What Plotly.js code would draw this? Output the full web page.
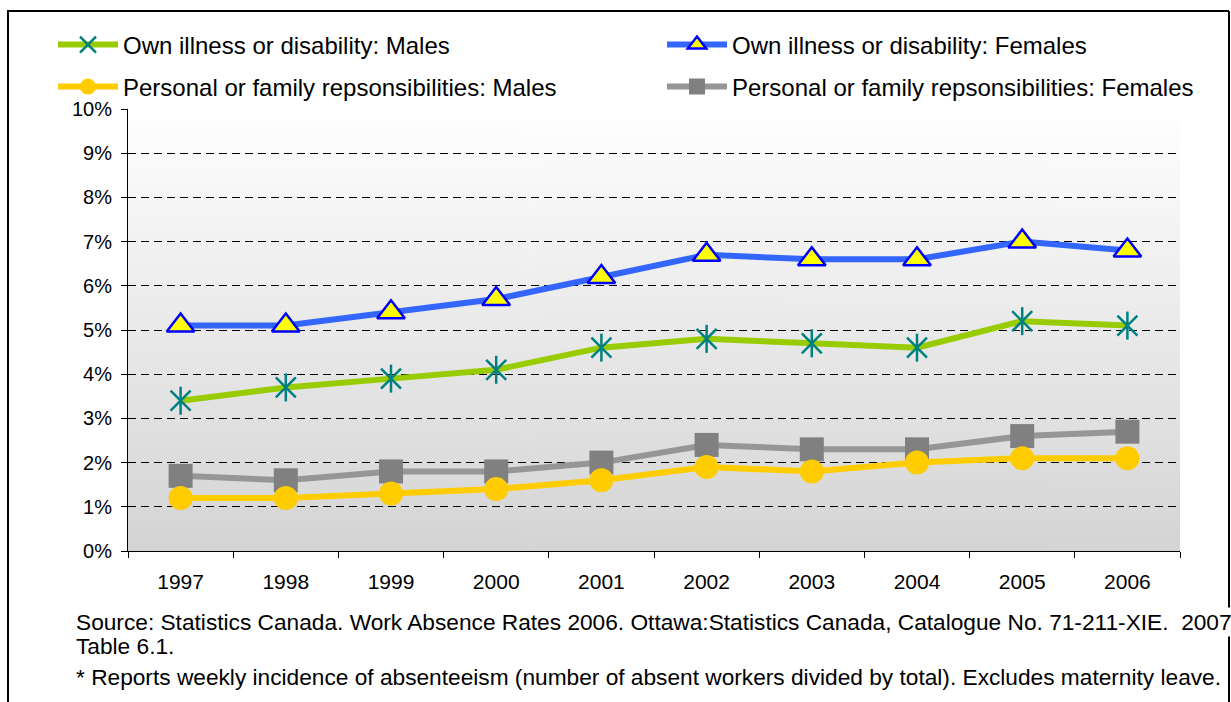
<!DOCTYPE html>
<html>
<head>
<meta charset="utf-8">
<script src="https://cdn.plot.ly/plotly-3.0.1.min.js"></script>
<style>
  html, body { margin: 0; padding: 0; background: #fff; }
  #chart { width: 1231px; height: 702px; }
</style>
</head>
<body>
<div id="chart"></div>
<script>
// Work absence rates by reason and sex, Canada 1997-2006 (% of workers)
const years = ['1997', '1998', '1999', '2000', '2001', '2002', '2003', '2004', '2005', '2006'];
const ownIllnessMales   = [3.4, 3.7, 3.9, 4.1, 4.6, 4.8, 4.7, 4.6, 5.2, 5.1];
const ownIllnessFemales = [5.1, 5.1, 5.4, 5.7, 6.2, 6.7, 6.6, 6.6, 7.0, 6.8];
const familyMales       = [1.2, 1.2, 1.3, 1.4, 1.6, 1.9, 1.8, 2.0, 2.1, 2.1];
const familyFemales     = [1.7, 1.6, 1.8, 1.8, 2.0, 2.4, 2.3, 2.3, 2.6, 2.7];

const seriesNames = [
  'Own illness or disability: Males',
  'Own illness or disability: Females',
  'Personal or family repsonsibilities: Males',
  'Personal or family repsonsibilities: Females'
];

const sourceLine1 = 'Source: Statistics Canada. Work Absence Rates 2006. Ottawa:Statistics Canada, Catalogue No. 71-211-XIE.  2007';
const sourceLine2 = 'Table 6.1.';
const noteLine = '* Reports weekly incidence of absenteeism (number of absent workers divided by total). Excludes maternity leave.';

// Vertical white-to-grey wash behind the plot area
function gradientImage() {
  const c = document.createElement('canvas');
  c.width = 4; c.height = 256;
  const ctx = c.getContext('2d');
  const g = ctx.createLinearGradient(0, 0, 0, 256);
  g.addColorStop(0, '#ffffff');
  g.addColorStop(1, '#d4d4d4');
  ctx.fillStyle = g;
  ctx.fillRect(0, 0, 4, 256);
  return c.toDataURL('image/png');
}

const font = 'Liberation Sans, Arial, sans-serif';

// plot area in pixels (used to place frame and notes in paper units)
const W = 1231, H = 702;
const M = {l: 128, r: 51, t: 109, b: 151};
const PW = W - M.l - M.r, PH = H - M.t - M.b;
const px = v => (v - M.l) / PW;
const py = v => (H - M.b - v) / PH;

const traces = [
  {
    x: years, y: familyFemales, name: seriesNames[3], legend: 'legend4',
    mode: 'lines+markers', type: 'scatter',
    line: {color: '#969696', width: 6},
    marker: {symbol: 'square', size: 24, color: '#808080'}
  },
  {
    x: years, y: familyMales, name: seriesNames[2], legend: 'legend3',
    mode: 'lines+markers', type: 'scatter',
    line: {color: '#ffcc00', width: 6},
    marker: {symbol: 'circle', size: 24, color: '#ffcc00'}
  },
  {
    x: years, y: ownIllnessMales, name: seriesNames[0], legend: 'legend',
    mode: 'lines+markers', type: 'scatter',
    line: {color: '#99cc00', width: 6},
    marker: {symbol: 'x-thin-open', size: 20, color: '#008080', line: {color: '#008080', width: 2.5}}
  },
  {
    // vertical stroke that completes the six-armed asterisk
    x: years, y: ownIllnessMales, name: seriesNames[0], showlegend: false,
    mode: 'markers', type: 'scatter', hoverinfo: 'skip',
    marker: {symbol: 'line-ns-open', size: 20, color: '#008080', line: {color: '#008080', width: 2.5}}
  },
  {
    x: years, y: ownIllnessFemales, name: seriesNames[1], legend: 'legend2',
    mode: 'lines+markers', type: 'scatter',
    line: {color: '#3366ff', width: 6},
    marker: {symbol: 'triangle-up', size: 24, color: '#ffff00', line: {color: '#0000ff', width: 2.5}}
  }
];

function legendAt(left, centerY, itemW) {
  return {
    orientation: 'h',
    xref: 'container', yref: 'container',
    xanchor: 'left', yanchor: 'middle',
    x: left / W, y: 1 - centerY / H,
    itemwidth: itemW,
    font: {family: font, size: 24, color: '#000'},
    bgcolor: 'rgba(0,0,0,0)'
  };
}

const layout = {
  width: W, height: H,
  margin: {l: M.l, r: M.r, t: M.t, b: M.b, pad: 0, autoexpand: false},
  paper_bgcolor: '#ffffff',
  plot_bgcolor: 'rgba(0,0,0,0)',
  font: {family: font, color: '#000'},
  showlegend: true,
  legend: legendAt(53, 45, 60),
  legend2: legendAt(662, 45, 60),
  legend3: legendAt(53, 87, 60),
  legend4: legendAt(662, 87, 60),
  xaxis: {
    type: 'category',
    range: [-0.5, 9.5],
    showline: true, linecolor: '#000', linewidth: 1,
    ticks: 'outside', ticklen: 6, tickcolor: '#000', tickson: 'boundaries',
    ticklabelstandoff: 12,
    showgrid: false, zeroline: false,
    tickfont: {family: font, size: 21, color: '#000'},
    fixedrange: true
  },
  yaxis: {
    range: [0, 10], dtick: 1, tick0: 0,
    ticksuffix: '%',
    showline: true, linecolor: '#000', linewidth: 1,
    ticks: 'outside', ticklen: 6, tickcolor: '#000',
    ticklabelstandoff: 5,
    showgrid: true, gridcolor: '#000', gridwidth: 1, griddash: '8px,5px',
    zeroline: false,
    tickfont: {family: font, size: 20, color: '#000'},
    fixedrange: true
  },
  images: [{
    source: gradientImage(),
    xref: 'paper', yref: 'paper',
    x: 0, y: 1, sizex: 1, sizey: 1,
    xanchor: 'left', yanchor: 'top',
    sizing: 'stretch', layer: 'below'
  }],
  shapes: [
    // chart frame
    {type: 'line', xref: 'paper', yref: 'paper',
     x0: px(8), x1: px(8), y0: py(11), y1: py(720),
     line: {color: '#000', width: 2}},
    {type: 'line', xref: 'paper', yref: 'paper',
     x0: px(7), x1: px(1229), y0: py(11), y1: py(11),
     line: {color: '#000', width: 2}},
    {type: 'line', xref: 'paper', yref: 'paper',
     x0: px(1229), x1: px(1229), y0: py(11), y1: py(720),
     line: {color: '#000', width: 2}}
  ],
  annotations: [
    {text: sourceLine1, xref: 'paper', yref: 'paper', x: px(74), y: py(622),
     xanchor: 'left', yanchor: 'middle', showarrow: false, bgcolor: '#ffffff',
     font: {family: font, size: 22.7, color: '#000'}},
    {text: sourceLine2, xref: 'paper', yref: 'paper', x: px(74), y: py(646),
     xanchor: 'left', yanchor: 'middle', showarrow: false,
     font: {family: font, size: 22.7, color: '#000'}},
    {text: noteLine, xref: 'paper', yref: 'paper', x: px(74), y: py(677),
     xanchor: 'left', yanchor: 'middle', showarrow: false,
     font: {family: font, size: 22.7, color: '#000'}}
  ]
};

Plotly.newPlot('chart', traces, layout, {staticPlot: true, displayModeBar: false});
</script>
</body>
</html>
